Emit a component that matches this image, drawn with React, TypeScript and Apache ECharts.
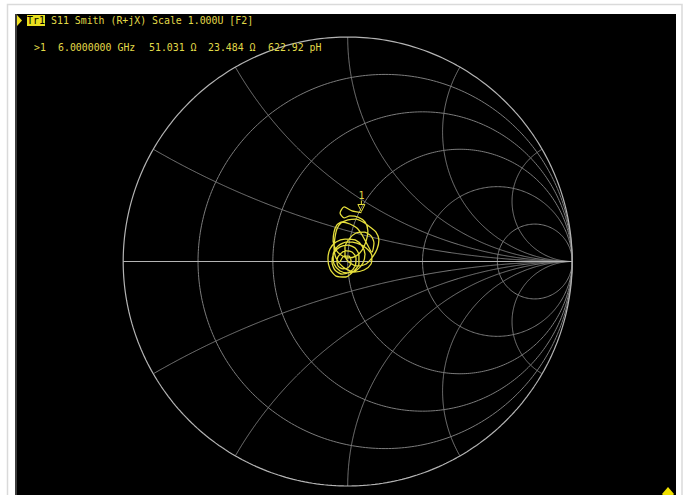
import React, { useEffect, useRef } from "react";
import * as echarts from "echarts";

// ---- data ----
const Z0 = 50;
const resistanceCircles = [0.2, 0.5, 1, 2, 5];
const reactanceArcs = [0.268, 0.577, 1, 1.732, 3.732];

const traceRe = [
  -0.034, -0.016, 0.006, 0.015, 0.006, -0.021, -0.043, -0.048, -0.034, -0.008,
  0.019, 0.037, 0.033, 0.010, -0.025, -0.057, -0.070, -0.061, -0.034, 0.001,
  0.033, 0.050, 0.050, 0.028, -0.008, -0.052, -0.079, -0.088, -0.079, -0.052,
  -0.012, 0.033, 0.064, 0.077, 0.068, 0.041, 0.001, -0.034, -0.061, -0.065,
  -0.043, -0.003, 0.041, 0.082, 0.108, 0.104, 0.073, 0.028, -0.021, -0.052,
  -0.061, -0.057, -0.048, -0.030, 0.001, 0.037, 0.068, 0.099, 0.126, 0.139,
  0.131, 0.108, 0.082, 0.046, 0.010, -0.012, -0.012, 0.006, 0.037, 0.073,
  0.104, 0.117, 0.108, 0.086, 0.064, 0.041, 0.010, -0.025, -0.048, -0.061,
  -0.065, -0.052, -0.030, 0.001, 0.037, 0.064, 0.082, 0.090, 0.077, 0.046,
  0.010, -0.016, -0.034, -0.016, 0.019, 0.061,
];
const traceIm = [
  -0.002, 0.024, 0.024, 0.002, -0.024, -0.033, -0.020, 0.007, 0.033, 0.047,
  0.042, 0.016, -0.020, -0.047, -0.056, -0.038, -0.002, 0.038, 0.065, 0.073,
  0.060, 0.029, -0.011, -0.042, -0.069, -0.065, -0.033, 0.011, 0.056, 0.087,
  0.100, 0.096, 0.069, 0.033, -0.007, -0.038, -0.051, -0.042, -0.011, 0.033,
  0.069, 0.087, 0.082, 0.060, 0.024, -0.011, -0.038, -0.047, -0.024, 0.016,
  0.060, 0.105, 0.145, 0.171, 0.185, 0.189, 0.176, 0.154, 0.131, 0.096,
  0.056, 0.016, -0.011, -0.020, -0.007, 0.024, 0.065, 0.100, 0.127, 0.131,
  0.114, 0.082, 0.042, 0.078, 0.118, 0.149, 0.167, 0.176, 0.163, 0.131,
  0.091, 0.051, 0.029, 0.016, 0.024, 0.051, 0.091, 0.136, 0.176, 0.198,
  0.203, 0.194, 0.216, 0.243, 0.225, 0.218,
];

const markerLabel = "1";
const markerFreq = "6.0000000 GHz";
const markerR = 51.031;
const markerX = 23.484;
const markerL = "622.92 pH";
const traceName = "Tr1";
const headerText = "S11 Smith (R+jX) Scale 1.000U [F2]";

// ---- styles ----
const YELLOW = "#e6df3c";
const TEXT_YELLOW = "#e0d948";
const GRID = "#7c7c7c";
const OUTER = "#b4b4b4";
const FONT = '9.9px "DejaVu Sans Mono"';

function circlePts(cx: number, cy: number, rad: number, n = 360) {
  const pts: number[][] = [];
  for (let i = 0; i <= n; i++) {
    const t = (2 * Math.PI * i) / n;
    pts.push([cx + rad * Math.cos(t), cy + rad * Math.sin(t)]);
  }
  return pts;
}

function reactancePts(x: number, n = 1200) {
  const pts: number[][] = [];
  for (let i = 0; i < n; i++) {
    const th = ((Math.PI / 2) * i) / n;
    const r = Math.tan(th);
    const a = r - 1;
    const c = r + 1;
    const den = c * c + x * x;
    pts.push([(a * c + x * x) / den, (2 * x) / den]);
  }
  pts.push([1, 0]);
  return pts;
}

function gridLine(data: number[][], color: string, width = 1) {
  return {
    type: "line",
    data,
    symbol: "none",
    showSymbol: false,
    silent: true,
    clip: false,
    z: 1,
    lineStyle: { color, width },
  };
}

export default function App() {
  const ref = useRef<HTMLDivElement>(null);

  useEffect(() => {
    if (!ref.current) return;
    const chart = echarts.init(ref.current, null, { renderer: "svg" });

    const series: any[] = [];
    resistanceCircles.forEach((r) => {
      series.push(gridLine(circlePts(r / (r + 1), 0, 1 / (r + 1)), GRID));
    });
    reactanceArcs.forEach((x) => {
      series.push(gridLine(reactancePts(x), GRID));
      series.push(gridLine(reactancePts(-x), GRID));
    });
    series.push(gridLine(circlePts(0, 0, 1), OUTER, 1.2));
    series.push(gridLine([[-1, 0], [1, 0]], OUTER, 1.2));

    series.push({
      type: "line",
      data: traceRe.map((v, i) => [v, traceIm[i]]),
      symbol: "none",
      showSymbol: false,
      smooth: 0.25,
      silent: true,
      z: 5,
      lineStyle: { color: YELLOW, width: 1.3 },
    });

    const zr = markerR / Z0;
    const zx = markerX / Z0;
    const den = (zr + 1) * (zr + 1) + zx * zx;
    const mRe = ((zr - 1) * (zr + 1) + zx * zx) / den;
    const mIm = (2 * zx) / den;

    series.push({
      type: "custom",
      data: [[mRe, mIm]],
      z: 6,
      silent: true,
      renderItem: (_p: any, api: any) => {
        const p = api.coord([api.value(0), api.value(1)]);
        return {
          type: "group",
          children: [
            {
              type: "polygon",
              shape: { points: [[p[0] - 3.5, p[1] - 8], [p[0] + 3.5, p[1] - 8], [p[0], p[1] - 1]] },
              style: { fill: "none", stroke: YELLOW, lineWidth: 1 },
            },
            {
              type: "line",
              shape: { x1: p[0], y1: p[1] - 12, x2: p[0], y2: p[1] - 8 },
              style: { stroke: YELLOW, lineWidth: 1 },
            },
            {
              type: "text",
              style: {
                text: markerLabel,
                x: p[0],
                y: p[1] - 12,
                textAlign: "center",
                textVerticalAlign: "bottom",
                fill: TEXT_YELLOW,
                font: FONT,
              },
            },
          ],
        };
      },
    });

    const txt = (text: string, x: number, y: number, fill = TEXT_YELLOW) => ({
      type: "text",
      z: 100,
      style: { text, x, y, fill, font: FONT, textVerticalAlign: "middle" },
    });

    chart.setOption({
      animation: false,
      backgroundColor: "#ffffff",
      grid: { left: 123.2, top: 37, width: 449, height: 449 },
      xAxis: { type: "value", min: -1, max: 1, show: false },
      yAxis: { type: "value", min: -1, max: 1, show: false },
      graphic: [
        {
          type: "rect",
          z: -10,
          shape: { x: 7.5, y: 4.5, width: 674.5, height: 500 },
          style: { fill: "#ffffff", stroke: "#dadada", lineWidth: 1.5 },
        },
        {
          type: "rect",
          z: -9,
          shape: { x: 15, y: 14, width: 661, height: 481 },
          style: { fill: "#000000" },
        },
        {
          type: "rect",
          z: -8,
          shape: { x: 15, y: 14, width: 2, height: 481 },
          style: { fill: "#3c3c3c" },
        },
        {
          type: "polygon",
          z: 100,
          shape: { points: [[17, 15], [22, 20.5], [17, 26]] },
          style: { fill: "#f0e020" },
        },
        {
          type: "rect",
          z: 100,
          shape: { x: 27, y: 15, width: 18, height: 11 },
          style: { fill: "#e8e020" },
        },
        txt(traceName, 27, 20.8, "#000000"),
        txt(headerText, 51, 20.8),
        txt(">" + markerLabel, 34, 47),
        txt(markerFreq, 58, 47),
        txt(markerR.toFixed(3) + " Ω", 149, 47),
        txt(markerX.toFixed(3) + " Ω", 208, 47),
        txt(markerL, 268, 47),
        {
          type: "polygon",
          z: 100,
          shape: { points: [[668, 487], [674, 494], [668, 501], [662, 494]] },
          style: { fill: "#f0e000" },
        },
      ],
      series,
    });

    return () => chart.dispose();
  }, []);

  return (
    <div
      ref={ref}
      style={{ position: "absolute", left: 0, top: 0, width: 685, height: 495 }}
    />
  );
}
